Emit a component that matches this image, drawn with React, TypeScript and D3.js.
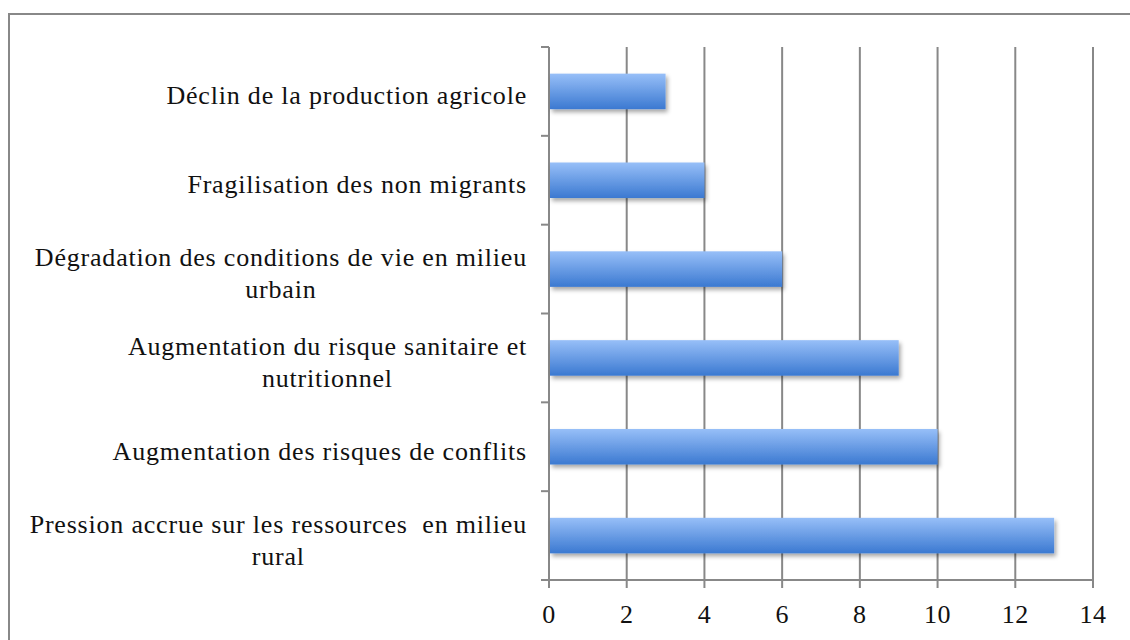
import React, { useEffect, useRef } from 'react';
import * as d3 from 'd3';

// categories, top to bottom (each entry = lines of the label)
const categories = [
    ['Déclin de la production agricole'],
    ['Fragilisation des non migrants'],
    ['Dégradation des conditions de vie en milieu', 'urbain'],
    ['Augmentation du risque sanitaire et', 'nutritionnel'],
    ['Augmentation des risques de conflits'],
    ['Pression accrue sur les ressources  en milieu', 'rural'],
];
const values = [3, 4, 6, 9, 10, 13];
const xTicks = [0, 2, 4, 6, 8, 10, 12, 14];

const W = 1130;
const H = 640;
const FONT = '"Liberation Serif", serif';
const FS = 26;
const GRID = '#888888';

export default function App() {
    const ref = useRef<SVGSVGElement>(null);

    useEffect(() => {
        const svg = d3.select(ref.current);
        svg.selectAll('*').remove();

        const defs = svg.append('defs');
        const grad = defs.append('linearGradient')
            .attr('id', 'barGrad')
            .attr('x1', 0).attr('y1', 0).attr('x2', 0).attr('y2', 1);
        grad.append('stop').attr('offset', '0%').attr('stop-color', '#97bff8');
        grad.append('stop').attr('offset', '100%').attr('stop-color', '#3b79d1');
        const shadow = defs.append('filter').attr('id', 'shadow')
            .attr('x', '-5%').attr('y', '-20%').attr('width', '110%').attr('height', '160%');
        shadow.append('feDropShadow')
            .attr('dx', 2).attr('dy', 3).attr('stdDeviation', 2)
            .attr('flood-color', '#000').attr('flood-opacity', 0.35);

        // cadre
        svg.append('rect')
            .attr('x', 9).attr('y', 14)
            .attr('width', W + 20).attr('height', H + 20)
            .attr('fill', 'none').attr('stroke', GRID).attr('stroke-width', 2);

        const x = d3.scaleLinear().domain([0, 14]).range([549, 1093]);
        const keys = categories.map((c) => c.join(' '));
        const y = d3.scaleBand()
            .domain(keys)
            .range([47, 580])
            .paddingInner(0.6)
            .paddingOuter(0.3);

        const top = y.range()[0];
        const bottom = y.range()[1];

        // lignes verticales
        svg.append('g')
            .selectAll('line')
            .data(xTicks.filter((t) => t > 0))
            .join('line')
            .attr('x1', (t) => x(t)).attr('x2', (t) => x(t))
            .attr('y1', top).attr('y2', bottom + 8)
            .attr('stroke', GRID).attr('stroke-width', 2);

        // axe gauche + ticks
        const boundaries = d3.range(keys.length + 1).map((i) => top + i * y.step());
        svg.append('line')
            .attr('x1', x(0)).attr('x2', x(0))
            .attr('y1', top).attr('y2', bottom + 8)
            .attr('stroke', GRID).attr('stroke-width', 2);
        svg.append('g')
            .selectAll('line')
            .data(boundaries.slice(0, -1))
            .join('line')
            .attr('x1', x(0) - 8).attr('x2', x(0))
            .attr('y1', (b) => b).attr('y2', (b) => b)
            .attr('stroke', GRID).attr('stroke-width', 2);

        // axe bas
        svg.append('line')
            .attr('x1', x(0) - 8).attr('x2', x(14) + 1)
            .attr('y1', bottom).attr('y2', bottom)
            .attr('stroke', GRID).attr('stroke-width', 2);

        svg.append('g')
            .selectAll('text')
            .data(xTicks)
            .join('text')
            .attr('x', (t) => x(t))
            .attr('y', bottom + 43)
            .attr('text-anchor', 'middle')
            .style('font-family', FONT)
            .style('font-size', FS + 'px')
            .style('letter-spacing', '0.5px')
            .attr('fill', '#111')
            .text((t) => t);

        // barres
        svg.append('g')
            .selectAll('rect')
            .data(values)
            .join('rect')
            .attr('x', x(0) + 1)
            .attr('y', (v, i) => y(keys[i])!)
            .attr('width', (v) => x(v) - x(0) - 1)
            .attr('height', y.bandwidth())
            .attr('fill', 'url(#barGrad)')
            .attr('filter', 'url(#shadow)');

        // libellés
        const labelRight = 527;
        const lineH = 32;
        categories.forEach((lines, i) => {
            const cy = y(keys[i])! + y.bandwidth() / 2;
            const g = svg.append('g');
            const texts = g.selectAll('text')
                .data(lines)
                .join('text')
                .attr('y', (l, j) => cy + 13 + (j - (lines.length - 1) / 2) * lineH)
                .attr('text-anchor', 'middle')
                .style('font-family', FONT)
                .style('font-size', FS + 'px')
                .style('letter-spacing', '0.8px')
                .style('white-space', 'pre')
                .attr('fill', '#111')
                .text((l) => l);
            let maxW = 0;
            texts.each(function () {
                maxW = Math.max(maxW, (this as SVGTextElement).getComputedTextLength());
            });
            texts.attr('x', labelRight - maxW / 2);
        });
    }, []);

    return (
        <svg ref={ref} width={W} height={H}
            style={{ position: 'absolute', left: 0, top: 0, background: '#fff' }} />
    );
}
